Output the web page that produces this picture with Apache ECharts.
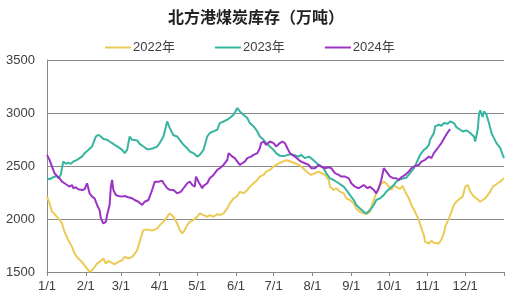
<!DOCTYPE html>
<html><head><meta charset="utf-8">
<script src="https://cdn.jsdelivr.net/npm/echarts@6/dist/echarts.min.js"></script>
<style>html,body{margin:0;padding:0;background:#fff}#c{width:512px;height:299px}</style>
</head><body><div id="c"></div>
<script>
const titleText = '北方港煤炭库存（万吨）';
const seriesNames = ['2022年', '2023年', '2024年'];
const monthStarts = [0, 31, 59, 90, 120, 151, 181, 212, 243, 273, 304, 334, 365];
const monthLabels = ['1/1','2/1','3/1','4/1','5/1','6/1','7/1','8/1','9/1','10/1','11/1','12/1',''];
const yTicks = [1500, 2000, 2500, 3000, 3500];

// [day of year, stock in 10k tonnes]
const data2022 = [[0,2211],[2,2147],[4,2068],[6,2046],[9,2006],[12,1958],[14,1879],[17,1800],[20,1737],[22,1674],[25,1627],[28,1595],[30,1563],[32,1532],[34,1500],[36,1516],[38,1547],[40,1579],[42,1595],[45,1627],[47,1579],[49,1604],[52,1585],[54,1573],[57,1595],[60,1611],[62,1642],[65,1627],[68,1642],[70,1674],[72,1705],[74,1784],[76,1864],[77,1895],[80,1902],[82,1895],[85,1895],[88,1911],[90,1940],[93,1975],[96,2021],[98,2053],[101,2021],[104,1958],[106,1895],[108,1864],[110,1895],[112,1942],[114,1973],[117,1990],[120,2021],[122,2053],[125,2037],[128,2021],[130,2037],[133,2021],[136,2046],[138,2037],[141,2053],[144,2100],[146,2147],[149,2195],[152,2217],[154,2258],[157,2242],[160,2274],[162,2305],[165,2337],[168,2368],[170,2400],[173,2416],[175,2447],[178,2463],[181,2495],[183,2510],[186,2530],[189,2545],[191,2555],[194,2545],[198,2526],[201,2510],[203,2495],[206,2463],[209,2432],[211,2416],[214,2432],[217,2447],[219,2432],[222,2416],[225,2368],[226,2305],[229,2274],[231,2290],[234,2258],[237,2242],[239,2195],[242,2179],[245,2147],[247,2100],[250,2068],[253,2053],[255,2046],[258,2068],[259,2116],[262,2211],[264,2274],[266,2321],[269,2352],[271,2337],[273,2305],[275,2274],[277,2321],[279,2300],[282,2285],[284,2312],[286,2258],[289,2195],[291,2132],[294,2068],[297,1990],[299,1911],[301,1848],[302,1784],[305,1769],[307,1794],[309,1775],[310,1763],[313,1769],[315,1807],[317,1864],[318,1926],[321,2006],[323,2068],[325,2132],[327,2163],[330,2195],[332,2211],[334,2305],[336,2321],[338,2258],[341,2211],[343,2195],[346,2163],[348,2179],[350,2195],[352,2226],[354,2258],[356,2305],[358,2321],[360,2337],[362,2352],[364,2375],[365,2384]];
const data2023 = [[0,2384],[2,2375],[5,2394],[8,2406],[9,2384],[11,2416],[13,2542],[15,2520],[17,2532],[19,2520],[21,2542],[24,2558],[26,2574],[28,2589],[30,2621],[33,2652],[36,2684],[37,2716],[39,2778],[41,2795],[43,2778],[45,2754],[48,2747],[50,2731],[52,2716],[54,2700],[57,2678],[60,2652],[62,2621],[64,2652],[66,2778],[68,2747],[69,2763],[72,2741],[74,2709],[77,2684],[80,2659],[82,2659],[85,2668],[88,2684],[90,2716],[93,2778],[95,2873],[96,2920],[98,2860],[101,2790],[104,2778],[106,2747],[109,2700],[112,2668],[114,2637],[117,2621],[120,2589],[122,2605],[125,2652],[128,2778],[130,2811],[133,2826],[136,2842],[138,2905],[141,2920],[144,2937],[146,2953],[149,2984],[152,3047],[154,3015],[157,2984],[160,2953],[162,2905],[165,2873],[168,2826],[170,2778],[173,2747],[175,2716],[178,2684],[181,2652],[183,2621],[186,2596],[189,2595],[191,2600],[194,2610],[197,2605],[201,2589],[203,2605],[206,2574],[209,2589],[211,2574],[214,2542],[217,2510],[221,2479],[223,2432],[226,2384],[229,2368],[233,2337],[237,2305],[239,2274],[242,2226],[245,2179],[247,2132],[250,2100],[253,2068],[255,2053],[258,2084],[261,2132],[263,2179],[266,2195],[269,2226],[271,2258],[274,2290],[277,2321],[279,2352],[282,2375],[285,2384],[287,2390],[290,2432],[293,2479],[295,2526],[298,2605],[301,2652],[303,2668],[305,2700],[306,2747],[309,2811],[310,2873],[313,2889],[315,2880],[317,2905],[320,2899],[322,2920],[325,2905],[327,2867],[330,2842],[332,2826],[335,2836],[338,2811],[341,2778],[342,2731],[344,2842],[345,2984],[346,3025],[348,2962],[349,3015],[351,2984],[353,2905],[355,2811],[357,2763],[359,2716],[362,2668],[364,2605],[365,2574]];
const data2024 = [[0,2605],[2,2558],[4,2495],[6,2432],[8,2406],[10,2384],[12,2352],[14,2337],[16,2321],[18,2305],[20,2321],[21,2290],[23,2299],[25,2280],[28,2274],[30,2280],[32,2337],[33,2290],[34,2242],[36,2211],[38,2195],[40,2132],[42,2084],[43,2006],[45,1958],[47,1973],[48,2037],[50,2132],[51,2305],[52,2368],[53,2274],[55,2226],[57,2217],[60,2211],[62,2217],[65,2205],[68,2195],[70,2179],[73,2163],[76,2132],[78,2163],[81,2179],[84,2274],[86,2352],[89,2352],[92,2362],[93,2340],[96,2290],[98,2275],[101,2274],[104,2242],[105,2226],[107,2258],[109,2290],[112,2337],[114,2352],[116,2321],[118,2305],[119,2400],[121,2352],[124,2290],[125,2312],[128,2337],[130,2384],[133,2416],[136,2463],[138,2479],[141,2510],[144,2558],[145,2621],[146,2605],[148,2589],[150,2574],[152,2542],[154,2510],[156,2526],[158,2542],[160,2574],[163,2589],[165,2605],[168,2621],[170,2668],[171,2716],[173,2731],[175,2700],[178,2731],[181,2716],[183,2684],[186,2716],[188,2731],[190,2716],[192,2668],[194,2621],[196,2605],[198,2589],[201,2558],[203,2542],[206,2526],[209,2510],[211,2479],[214,2479],[217,2510],[219,2495],[222,2479],[225,2489],[227,2479],[230,2432],[233,2416],[235,2400],[238,2400],[241,2384],[243,2337],[246,2305],[249,2290],[251,2305],[253,2321],[256,2290],[258,2305],[261,2274],[263,2242],[265,2290],[267,2368],[269,2479],[270,2495],[272,2432],[274,2400],[277,2384],[279,2384],[281,2368],[283,2394],[286,2416],[289,2447],[291,2479],[294,2501],[297,2510],[299,2542],[302,2558],[305,2589],[307,2574],[309,2621],[310,2637],[313,2684],[315,2716],[318,2778],[320,2816],[322,2848]];

const colors = ['#EBCB55', '#38B5A0', '#9B34C4'];
const font = '"Liberation Sans", "Noto Sans CJK SC", sans-serif';
const chart = echarts.init(document.getElementById('c'), null, {renderer: 'canvas'});
const allData = [data2022, data2023, data2024];
chart.setOption({
  animation: false,
  color: colors,
  title: {text: titleText, left: 'center', top: 6, textStyle: {fontSize: 16, fontWeight: 'bold', color: '#222', fontFamily: font}},
  legend: {top: 36, left: 100, itemGap: 40, itemWidth: 26, itemHeight: 2, icon: 'rect',
    textStyle: {fontSize: 13, color: '#404040', fontFamily: font, padding: [0,0,0,-3]},
    data: seriesNames},
  grid: {left: 47, right: 8, top: 60, bottom: 27, containLabel: false},
  xAxis: {type: 'value', min: 0, max: 365,
    axisLine: {show: true, lineStyle: {color: '#888'}},
    axisTick: {show: true, length: 4, lineStyle: {color: '#888'}, customValues: monthStarts},
    axisLabel: {customValues: monthStarts.slice(0, 12), fontSize: 13, color: '#404040', margin: 8, fontFamily: font,
      formatter: v => monthLabels[monthStarts.indexOf(v)]},
    splitLine: {show: false}},
  yAxis: {type: 'value', min: yTicks[0], max: yTicks[yTicks.length-1], interval: 500,
    axisLine: {show: true, lineStyle: {color: '#888'}},
    axisTick: {show: false},
    axisLabel: {fontSize: 13, color: '#404040', margin: 12, fontFamily: font, formatter: v => String(v)},
    splitLine: {lineStyle: {color: '#8a8a8a', width: 1}}},
  series: seriesNames.map((n, i) => ({
    name: n, type: 'line', data: allData[i], symbol: 'none', smooth: false,
    lineStyle: {width: 2, color: colors[i]}, itemStyle: {color: colors[i]}
  }))
});
</script></body></html>
